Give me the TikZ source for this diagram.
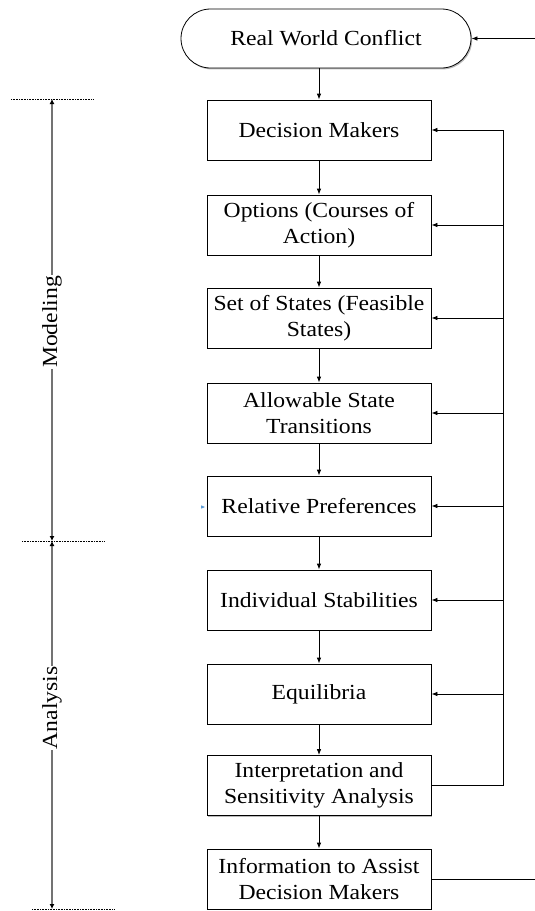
\documentclass[tikz,border=0pt]{standalone}
\usepackage{fontspec}
\setmainfont{Liberation Serif}[FakeStretch=1.1]
\usetikzlibrary{arrows.meta,shapes.misc,shadows}
\begin{document}
\begin{tikzpicture}[x=1pt,y=-1pt,
  txt/.style={font=\fontsize{21.5}{26}\selectfont},
  stepbox/.style={txt, draw, line width=0.8pt, fill=white, align=center,
    minimum width=224pt, minimum height=60pt, inner sep=0pt,
    drop shadow={shadow xshift=1.2pt, shadow yshift=-1.4pt, fill=black!45, opacity=0.6}},
  startbox/.style={stepbox, shape=rounded rectangle, minimum width=290pt, minimum height=59pt},
  flow/.style={line width=0.8pt, -{Latex[length=6pt,width=4.5pt]}},
  rail/.style={line width=0.8pt},
  axis/.style={line width=1.6pt, black!55, {Latex[length=5pt,width=5pt,black]}-{Latex[length=5pt,width=5pt,black]}},
  tick/.style={line width=0.9pt, dotted, dash pattern=on 0.9pt off 0.7pt},
  phase/.style={txt, fill=white, rotate=90, inner sep=1pt}]
\useasboundingbox (0,0) rectangle (535,911);

% main sequence of steps
\node[startbox] (top) at (326,38.5) {Real World Conflict};
\node[stepbox] (b1) at (319,130) {Decision Makers};
\node[stepbox] (b2) at (319,225) {Options (Courses of\\Action)};
\node[stepbox] (b3) at (319,318) {Set of States (Feasible\\States)};
\node[stepbox] (b4) at (319,413) {Allowable State\\Transitions};
\node[stepbox] (b5) at (319,506) {Relative Preferences};
\node[stepbox] (b6) at (319,600) {Individual Stabilities};
\node[stepbox] (b7) at (319,694) {Equilibria};
\node[stepbox] (b8) at (319,785.5) {Interpretation and\\Sensitivity Analysis};
\node[stepbox] (b9) at (319,879) {Information to Assist\\Decision Makers};

% downward flow
\draw[flow] (top.south -| b1) -- (b1);
\foreach \a/\b in {b1/b2,b2/b3,b3/b4,b4/b5,b5/b6,b6/b7,b7/b8,b8/b9}
  \draw[flow] (\a) -- (\b);

% feedback rail on the right
\coordinate (rx) at (503,0);
\coordinate (ex) at (535,0);
\draw[rail] (b8.east) -- (rx |- b8.east) -- (rx |- b1.east);
\foreach \n in {b1,b2,b3,b4,b5,b6,b7}
  \draw[flow] (rx |- \n.east) -- (\n.east);

% loop back to the start
\draw[rail] (b9.east) -- (ex |- b9.east);
\draw[flow] (ex |- top.east) -- (top.east);

% small marker at the left of the preferences box
\fill[fill={rgb,255:red,91;green,155;blue,213}] (201,505.3) -- (205,507) -- (201,508.7) -- cycle;

% phase axis on the left
\coordinate (pa) at (52,99);
\coordinate (pm) at (52,541);
\coordinate (pb) at (52,909);
\draw[tick] (11,99) -- (94,99);
\draw[tick] (22,541) -- (104,541);
\draw[tick] (32,909.5) -- (114,909.5);
\draw[axis] (pa) -- (pm);
\draw[axis] (pm) -- (pb);
\node[phase] (mod) at (52,322) {Modeling};
\node[phase] (ana) at (52,708) {Analysis};
\end{tikzpicture}
\end{document}
